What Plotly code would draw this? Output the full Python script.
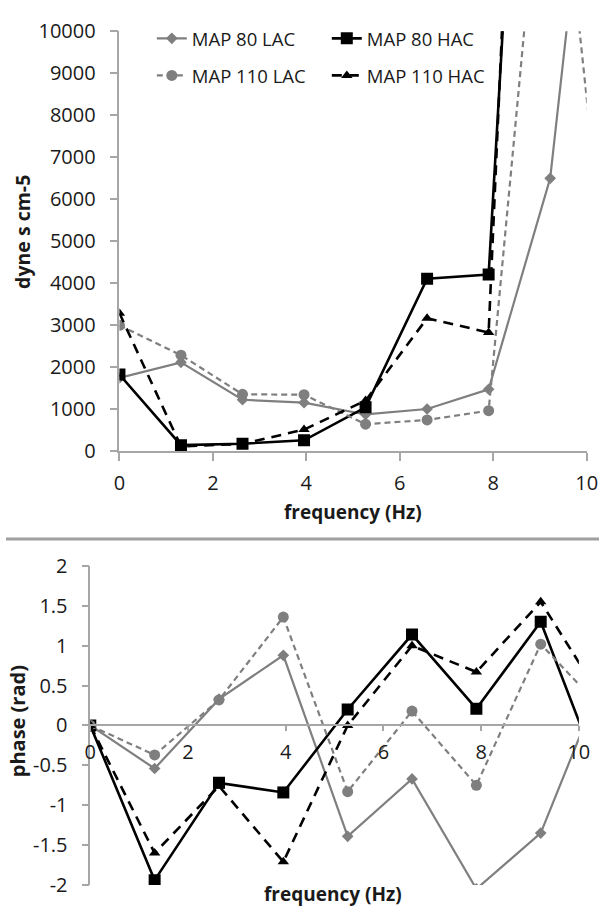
import plotly.graph_objects as go

# ---------------- data ----------------
freq = [0, 1.317, 2.634, 3.951, 5.268, 6.585, 7.902, 9.219, 10.536]

series_names = ["MAP 80 LAC", "MAP 80 HAC", "MAP 110 LAC", "MAP 110 HAC"]

imp_map80_lac = [1750, 2120, 1230, 1160, 880, 1010, 1480, 6500, 19700]
imp_map80_hac = [1830, 150, 185, 265, 1050, 4110, 4210, 29600, 20000]
imp_map110_lac = [3000, 2290, 1360, 1350, 650, 750, 970, 16600, 2800]
imp_map110_hac = [3290, 120, 180, 520, 1210, 3170, 2830, 36000, 25000]

ph_map80_lac = [0, -0.54, 0.33, 0.88, -1.39, -0.67, -2.05, -1.35, 0.65]
ph_map80_hac = [0, -1.94, -0.72, -0.84, 0.20, 1.14, 0.21, 1.30, -0.80]
ph_map110_lac = [0, -0.37, 0.32, 1.36, -0.83, 0.18, -0.75, 1.02, 0.17]
ph_map110_hac = [0, -1.60, -0.76, -1.71, 0.0, 1.00, 0.67, 1.55, 0.27]

x_ticks = [0, 2, 4, 6, 8, 10]
imp_ticks = [0, 1000, 2000, 3000, 4000, 5000, 6000, 7000, 8000, 9000, 10000]
imp_ticktext = ["0", "1000", "2000", "3000", "4000", "5000", "6000", "7000", "8000", "9000", "10000"]
ph_ticks = [-2, -1.5, -1, -0.5, 0, 0.5, 1, 1.5, 2]
ph_ticktext = ["-2", "-1.5", "-1", "-0.5", "0", "0.5", "1", "1.5", "2"]

# ---------------- styles ----------------
W, H = 610, 919
GRAY = "#7f7f7f"
AXC = "#a6a6a6"
FONT = "Open Sans"
TXT = "#1a1a1a"

styles = {
    "MAP 80 LAC": dict(color=GRAY, width=2.2, dash="solid", symbol="diamond", size=9, legend="legend"),
    "MAP 80 HAC": dict(color="black", width=2.6, dash="solid", symbol="square", size=12, legend="legend2"),
    "MAP 110 LAC": dict(color=GRAY, width=2.2, dash="6px,4px", symbol="circle", size=11, legend="legend"),
    "MAP 110 HAC": dict(color="black", width=2.6, dash="10px,7px", symbol="triangle-up", size=10, legend="legend2"),
}

imp_data = [imp_map80_lac, imp_map80_hac, imp_map110_lac, imp_map110_hac]
ph_data = [ph_map80_lac, ph_map80_hac, ph_map110_lac, ph_map110_hac]

fig = go.Figure()

for name, yv in zip(series_names, imp_data):
    s = styles[name]
    fig.add_trace(go.Scatter(
        x=freq, y=yv, name=name, mode="lines+markers",
        line=dict(color=s["color"], width=s["width"], dash=s["dash"]),
        marker=dict(symbol=s["symbol"], size=s["size"], color=s["color"]),
        xaxis="x", yaxis="y", legend=s["legend"], legendgroup=name,
    ))

for name, yv in zip(series_names, ph_data):
    s = styles[name]
    fig.add_trace(go.Scatter(
        x=freq, y=yv, name=name, mode="lines+markers", showlegend=False,
        line=dict(color=s["color"], width=s["width"], dash=s["dash"]),
        marker=dict(symbol=s["symbol"], size=s["size"], color=s["color"]),
        xaxis="x2", yaxis="y2", legendgroup=name,
    ))

def px_x(p):
    return p / W

def px_y(p):
    return 1 - p / H

tickfont = dict(family=FONT, size=20, color=TXT)

zero_pos = px_y(732.7)

fig.update_layout(
    width=W, height=H,
    margin=dict(l=0, r=0, t=0, b=0),
    paper_bgcolor="white", plot_bgcolor="white",
    font=dict(family=FONT, color=TXT),
    xaxis=dict(
        domain=[px_x(116.7), px_x(597.3)], range=[0, 10], anchor="y",
        tickvals=x_ticks, ticks="outside", ticklen=8, tickcolor=AXC, tickwidth=1.5,
        showline=True, linecolor=AXC, linewidth=1.5, showgrid=False, zeroline=False,
        tickfont=tickfont, ticklabelstandoff=5,
    ),
    yaxis=dict(
        domain=[px_y(450.7), px_y(17.7)], range=[0, 10000], anchor="x",
        tickvals=imp_ticks, ticktext=imp_ticktext, ticks="outside", ticklen=8, tickcolor=AXC, tickwidth=1.5,
        showline=True, linecolor=AXC, linewidth=1.5, showgrid=False, zeroline=False,
        tickfont=tickfont, ticklabelstandoff=10,
    ),
    xaxis2=dict(
        domain=[px_x(86.7), px_x(589.3)], range=[0, 10], anchor="free", position=zero_pos,
        tickvals=x_ticks, ticks="outside", ticklen=5, tickcolor=AXC, tickwidth=1.5,
        showline=True, linecolor=AXC, linewidth=1.5, showgrid=False, zeroline=False,
        tickfont=tickfont, ticklabelstandoff=4,
    ),
    yaxis2=dict(
        domain=[px_y(897.3), px_y(568.7)], range=[-2, 2], anchor="x2",
        tickvals=ph_ticks, ticktext=ph_ticktext, ticks="outside", ticklen=7, tickcolor=AXC, tickwidth=1.5,
        showline=True, linecolor=AXC, linewidth=1.5, showgrid=False, zeroline=False,
        tickfont=tickfont, ticklabelstandoff=10,
    ),
    legend=dict(
        x=px_x(150), y=px_y(6), xanchor="left", yanchor="top", orientation="v",
        font=dict(family=FONT, size=18.5, color=TXT), bgcolor="rgba(0,0,0,0)",
        tracegroupgap=10, traceorder="grouped",
    ),
    legend2=dict(
        x=px_x(330), y=px_y(6), xanchor="left", yanchor="top", orientation="v",
        font=dict(family=FONT, size=18.5, color=TXT), bgcolor="rgba(0,0,0,0)",
        tracegroupgap=10, traceorder="grouped",
    ),
    shapes=[dict(type="line", xref="paper", yref="paper", x0=0, x1=1,
                 y0=px_y(541), y1=px_y(541), line=dict(color="#a0a0a0", width=3))],
    annotations=[
        dict(text="<b>frequency (Hz)</b>", xref="paper", yref="paper",
             x=px_x(357), y=px_y(513), xanchor="center", yanchor="middle", showarrow=False,
             font=dict(family=FONT, size=19, color=TXT)),
        dict(text="<b>frequency (Hz)</b>", xref="paper", yref="paper",
             x=px_x(336), y=px_y(907), xanchor="center", yanchor="middle", showarrow=False,
             font=dict(family=FONT, size=19, color=TXT)),
        dict(text="<b>dyne s cm-5</b>", xref="paper", yref="paper", textangle=-90,
             x=px_x(17), y=px_y(225), xanchor="center", yanchor="middle", showarrow=False,
             font=dict(family=FONT, size=19.5, color=TXT)),
        dict(text="<b>phase (rad)</b>", xref="paper", yref="paper", textangle=-90,
             x=px_x(12), y=px_y(729), xanchor="center", yanchor="middle", showarrow=False,
             font=dict(family=FONT, size=20, color=TXT)),
    ],
)

fig.write_html("out.html")
